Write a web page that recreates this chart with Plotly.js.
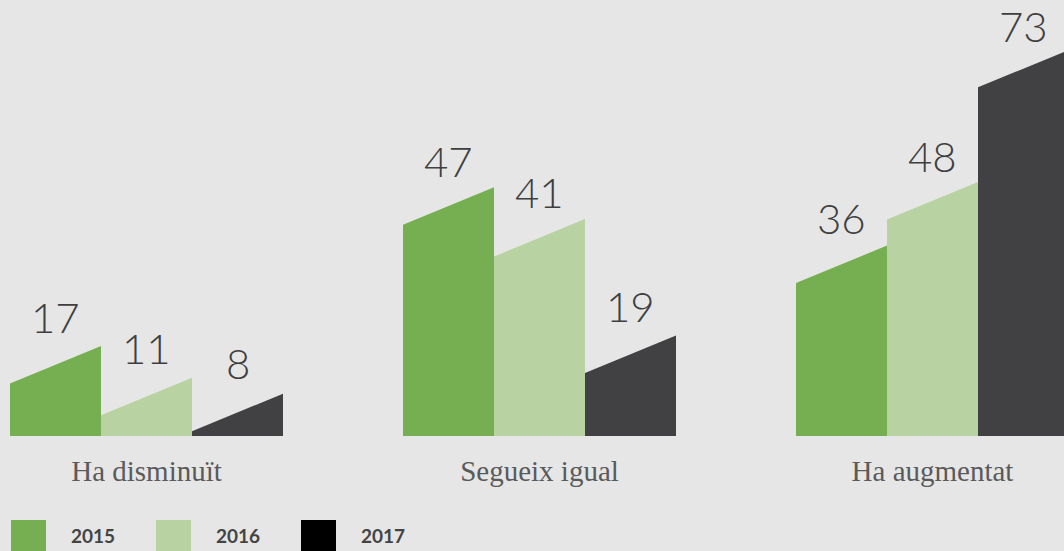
<!DOCTYPE html>
<html><head><meta charset="utf-8">
<script src="https://cdn.plot.ly/plotly-3.0.1.min.js"></script>
<style>html,body{margin:0;padding:0;background:#e6e6e6;overflow:hidden;} #chart{width:1064px;height:551px;}</style>
</head><body><div id="chart"></div>
<script>
// ---- data ----
const categories = ["Ha disminuït", "Segueix igual", "Ha augmentat"];
const seriesNames = ["2015", "2016", "2017"];
const values2015 = [17, 47, 36];
const values2016 = [11, 41, 48];
const values2017 = [8, 19, 73];
const barColors = ["#75af51", "#b8d3a1", "#414042"];
const legendColors = ["#75af51", "#b8d3a1", "#000000"];

// ---- geometry / style ----
const W = 1064, H = 551, PLOT_H = 436;
const GROUP_PX = 393, FIRST_GROUP_PX = 146.5;
const BAR_W = 91 / GROUP_PX;          // in category units
const PX_PER_UNIT = 5.29;
const SLANT = 37.5 / PX_PER_UNIT;     // left edge lower by this many units
const series = [values2015, values2016, values2017];

const traces = [];
const annotations = [];
series.forEach((vals, s) => {
  vals.forEach((v, g) => {
    const c = g + (s - 1) * BAR_W;
    const xl = c - BAR_W / 2, xr = c + BAR_W / 2;
    traces.push({
      type: 'scatter', mode: 'lines',
      x: [xl, xl, xr, xr, xl],
      y: [0, Math.max(v - SLANT, 0), v, 0, 0],
      fill: 'toself', fillcolor: barColors[s],
      line: {width: 0, color: barColors[s]},
      name: seriesNames[s], hoverinfo: 'skip', showlegend: false
    });
    annotations.push({
      xref: 'x', yref: 'y', x: c, y: v, text: String(v),
      showarrow: false, xanchor: 'center', yanchor: 'bottom',
      yshift: 4 - 0.1 * v,
      font: {family: 'Lato, sans-serif', size: 42, weight: 300, color: '#3f3f3f'}
    });
  });
});

// legend (drawn as squares + labels)
const shapes = [];
seriesNames.forEach((n, s) => {
  const left = 11 + s * 145;
  shapes.push({
    type: 'rect', xref: 'paper', yref: 'paper',
    x0: left / W, x1: (left + 35) / W,
    y0: (PLOT_H - 520) / PLOT_H, y1: (PLOT_H - 565) / PLOT_H,
    fillcolor: legendColors[s], line: {width: 0}
  });
  annotations.push({
    xref: 'paper', yref: 'paper', x: (left + 58) / W, y: (PLOT_H - 535.5) / PLOT_H,
    xanchor: 'left', yanchor: 'middle', showarrow: false, text: '<b>' + n + '</b>',
    font: {family: 'Lato, sans-serif', size: 19, color: '#444444'}
  });
});

const layout = {
  width: W, height: H,
  margin: {l: 0, r: 0, t: 0, b: H - PLOT_H, pad: 0},
  paper_bgcolor: '#e6e6e6', plot_bgcolor: '#e6e6e6',
  showlegend: false,
  xaxis: {
    range: [-FIRST_GROUP_PX / GROUP_PX, (W - FIRST_GROUP_PX) / GROUP_PX],
    tickmode: 'array', tickvals: [0, 1, 2], ticktext: categories,
    ticks: 'outside', ticklen: 9, tickcolor: 'rgba(0,0,0,0)',
    showgrid: false, zeroline: false, showline: false, fixedrange: true,
    tickfont: {family: 'Liberation Serif, serif', size: 29, color: '#5a5a5a'}
  },
  yaxis: {
    range: [0, PLOT_H / PX_PER_UNIT], visible: false, fixedrange: true,
    showgrid: false, zeroline: false
  },
  shapes: shapes,
  annotations: annotations
};

Plotly.newPlot('chart', traces, layout, {displayModeBar: false, staticPlot: true});
</script>
</body></html>
